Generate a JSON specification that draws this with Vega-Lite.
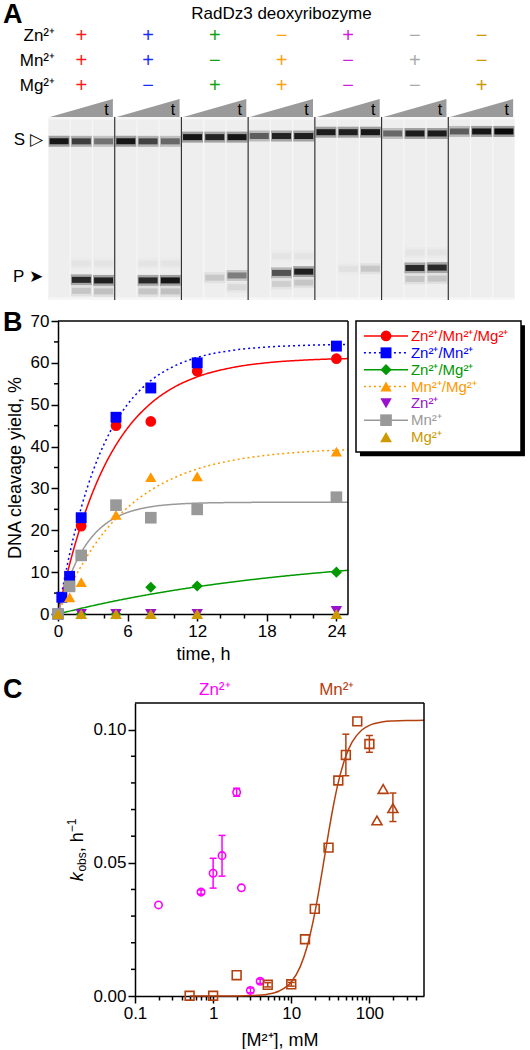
{
  "$schema": "https://vega.github.io/schema/vega-lite/v6.json",
  "padding": 0,
  "background": "white",
  "spacing": 0,
  "bounds": "flush",
  "resolve": {"scale": {"x": "independent", "y": "independent", "color": "independent", "shape": "independent", "size": "independent", "strokeDash": "independent", "opacity": "independent"}},
  "config": {
    "font": "Liberation Sans",
    "view": {"stroke": null},
    "text": {"font": "Liberation Sans", "color": "#000"},
    "axis": {"domainColor": "#000", "domainWidth": 1.5, "tickColor": "#000", "tickWidth": 1.5, "labelColor": "#000", "titleColor": "#000", "labelFont": "Liberation Sans", "titleFont": "Liberation Sans", "titleFontWeight": "normal", "grid": false, "labelFontSize": 17, "titleFontSize": 18, "labelOverlap": false, "labelFlush": false, "labelBound": false}
  },
  "datasets": {
    "signs": [
      {"cond": 1, "metal": "Zn²⁺", "sign": "+"}, {"cond": 1, "metal": "Mn²⁺", "sign": "+"}, {"cond": 1, "metal": "Mg²⁺", "sign": "+"},
      {"cond": 2, "metal": "Zn²⁺", "sign": "+"}, {"cond": 2, "metal": "Mn²⁺", "sign": "+"}, {"cond": 2, "metal": "Mg²⁺", "sign": "−"},
      {"cond": 3, "metal": "Zn²⁺", "sign": "+"}, {"cond": 3, "metal": "Mn²⁺", "sign": "−"}, {"cond": 3, "metal": "Mg²⁺", "sign": "+"},
      {"cond": 4, "metal": "Zn²⁺", "sign": "−"}, {"cond": 4, "metal": "Mn²⁺", "sign": "+"}, {"cond": 4, "metal": "Mg²⁺", "sign": "+"},
      {"cond": 5, "metal": "Zn²⁺", "sign": "+"}, {"cond": 5, "metal": "Mn²⁺", "sign": "−"}, {"cond": 5, "metal": "Mg²⁺", "sign": "−"},
      {"cond": 6, "metal": "Zn²⁺", "sign": "−"}, {"cond": 6, "metal": "Mn²⁺", "sign": "+"}, {"cond": 6, "metal": "Mg²⁺", "sign": "−"},
      {"cond": 7, "metal": "Zn²⁺", "sign": "−"}, {"cond": 7, "metal": "Mn²⁺", "sign": "−"}, {"cond": 7, "metal": "Mg²⁺", "sign": "+"}
    ],
    "conds": [{"cond": 1}, {"cond": 2}, {"cond": 3}, {"cond": 4}, {"cond": 5}, {"cond": 6}, {"cond": 7}],
    "lanes": [{"lane": 1}, {"lane": 2}, {"lane": 3}, {"lane": 4}, {"lane": 5}, {"lane": 6}, {"lane": 7}, {"lane": 8}, {"lane": 9}, {"lane": 10}, {"lane": 11}, {"lane": 12}, {"lane": 13}, {"lane": 14}, {"lane": 15}, {"lane": 16}, {"lane": 17}, {"lane": 18}, {"lane": 19}, {"lane": 20}, {"lane": 21}],
    "dividers": [{"b": 3.5}, {"b": 6.5}, {"b": 9.5}, {"b": 12.5}, {"b": 15.5}, {"b": 18.5}],
    "bands": [
      {"lane": 1, "band": "S", "mig": 0.133, "int": 0.95}, {"lane": 2, "band": "S", "mig": 0.133, "int": 0.75}, {"lane": 3, "band": "S", "mig": 0.133, "int": 0.5},
      {"lane": 4, "band": "S", "mig": 0.133, "int": 0.95}, {"lane": 5, "band": "S", "mig": 0.133, "int": 0.72}, {"lane": 6, "band": "S", "mig": 0.133, "int": 0.55},
      {"lane": 7, "band": "S", "mig": 0.11, "int": 0.95}, {"lane": 8, "band": "S", "mig": 0.11, "int": 0.88}, {"lane": 9, "band": "S", "mig": 0.11, "int": 0.95},
      {"lane": 10, "band": "S", "mig": 0.104, "int": 0.6}, {"lane": 11, "band": "S", "mig": 0.104, "int": 0.88}, {"lane": 12, "band": "S", "mig": 0.104, "int": 0.9},
      {"lane": 13, "band": "S", "mig": 0.083, "int": 0.92}, {"lane": 14, "band": "S", "mig": 0.083, "int": 0.9}, {"lane": 15, "band": "S", "mig": 0.083, "int": 0.95},
      {"lane": 16, "band": "S", "mig": 0.09, "int": 0.55}, {"lane": 17, "band": "S", "mig": 0.09, "int": 0.92}, {"lane": 18, "band": "S", "mig": 0.09, "int": 0.92},
      {"lane": 19, "band": "S", "mig": 0.079, "int": 0.6}, {"lane": 20, "band": "S", "mig": 0.079, "int": 0.95}, {"lane": 21, "band": "S", "mig": 0.079, "int": 1.0},
      {"lane": 2, "band": "P", "mig": 0.89, "int": 0.85}, {"lane": 3, "band": "P", "mig": 0.893, "int": 0.9},
      {"lane": 5, "band": "P", "mig": 0.893, "int": 0.85}, {"lane": 6, "band": "P", "mig": 0.893, "int": 0.95},
      {"lane": 8, "band": "P", "mig": 0.878, "int": 0.15}, {"lane": 9, "band": "P", "mig": 0.866, "int": 0.45},
      {"lane": 11, "band": "P", "mig": 0.852, "int": 0.65}, {"lane": 12, "band": "P", "mig": 0.845, "int": 0.9},
      {"lane": 14, "band": "P", "mig": 0.83, "int": 0.05}, {"lane": 15, "band": "P", "mig": 0.829, "int": 0.15},
      {"lane": 17, "band": "P", "mig": 0.825, "int": 0.85}, {"lane": 18, "band": "P", "mig": 0.823, "int": 0.85},
      {"lane": 2, "band": "P2", "mig": 0.95, "int": 0.16}, {"lane": 3, "band": "P2", "mig": 0.953, "int": 0.18},
      {"lane": 5, "band": "P2", "mig": 0.953, "int": 0.16}, {"lane": 6, "band": "P2", "mig": 0.953, "int": 0.18},
      {"lane": 9, "band": "P2", "mig": 0.93, "int": 0.08}, {"lane": 11, "band": "P2", "mig": 0.912, "int": 0.12},
      {"lane": 12, "band": "P2", "mig": 0.905, "int": 0.16}, {"lane": 17, "band": "P2", "mig": 0.885, "int": 0.16},
      {"lane": 18, "band": "P2", "mig": 0.883, "int": 0.16},
      {"lane": 2, "band": "Pu", "mig": 0.8, "int": 0.04}, {"lane": 3, "band": "Pu", "mig": 0.8, "int": 0.04},
      {"lane": 5, "band": "Pu", "mig": 0.8, "int": 0.04}, {"lane": 6, "band": "Pu", "mig": 0.8, "int": 0.04},
      {"lane": 11, "band": "Pu", "mig": 0.76, "int": 0.04}, {"lane": 12, "band": "Pu", "mig": 0.76, "int": 0.04},
      {"lane": 17, "band": "Pu", "mig": 0.74, "int": 0.04}, {"lane": 18, "band": "Pu", "mig": 0.74, "int": 0.04}
    ],
    "series": [
      {"id": "ZnMnMg", "label": "Zn²⁺/Mn²⁺/Mg²⁺", "fit": "solid"},
      {"id": "ZnMn", "label": "Zn²⁺/Mn²⁺", "fit": "dotted"},
      {"id": "ZnMg", "label": "Zn²⁺/Mg²⁺", "fit": "solid"},
      {"id": "MnMg", "label": "Mn²⁺/Mg²⁺", "fit": "dotted"},
      {"id": "Zn", "label": "Zn²⁺", "fit": "none"},
      {"id": "Mn", "label": "Mn²⁺", "fit": "solid"},
      {"id": "Mg", "label": "Mg²⁺", "fit": "none"}
    ],
    "yield": [
      {"s": "ZnMnMg", "t": 0, "y": 0}, {"s": "ZnMnMg", "t": 1, "y": 8}, {"s": "ZnMnMg", "t": 2, "y": 21}, {"s": "ZnMnMg", "t": 5, "y": 45}, {"s": "ZnMnMg", "t": 8, "y": 46}, {"s": "ZnMnMg", "t": 12, "y": 58}, {"s": "ZnMnMg", "t": 24, "y": 61},
      {"s": "ZnMn", "t": 0, "y": 0}, {"s": "ZnMn", "t": 0.33, "y": 4}, {"s": "ZnMn", "t": 1, "y": 9}, {"s": "ZnMn", "t": 2, "y": 23}, {"s": "ZnMn", "t": 5, "y": 47}, {"s": "ZnMn", "t": 8, "y": 54}, {"s": "ZnMn", "t": 12, "y": 60}, {"s": "ZnMn", "t": 24, "y": 64},
      {"s": "ZnMg", "t": 0, "y": 0}, {"s": "ZnMg", "t": 2, "y": 0}, {"s": "ZnMg", "t": 5, "y": 0}, {"s": "ZnMg", "t": 8, "y": 6.4}, {"s": "ZnMg", "t": 12, "y": 6.7}, {"s": "ZnMg", "t": 24, "y": 10},
      {"s": "MnMg", "t": 0, "y": 0}, {"s": "MnMg", "t": 1, "y": 4}, {"s": "MnMg", "t": 2, "y": 7.6}, {"s": "MnMg", "t": 5, "y": 23.7}, {"s": "MnMg", "t": 8, "y": 32.7}, {"s": "MnMg", "t": 12, "y": 32.9}, {"s": "MnMg", "t": 24, "y": 38.8},
      {"s": "Zn", "t": 0, "y": 0}, {"s": "Zn", "t": 2, "y": 0}, {"s": "Zn", "t": 5, "y": 0}, {"s": "Zn", "t": 8, "y": 0}, {"s": "Zn", "t": 12, "y": 0}, {"s": "Zn", "t": 24, "y": 0.7},
      {"s": "Mn", "t": 0, "y": 0}, {"s": "Mn", "t": 1, "y": 6.6}, {"s": "Mn", "t": 2, "y": 14}, {"s": "Mn", "t": 5, "y": 26}, {"s": "Mn", "t": 8, "y": 23}, {"s": "Mn", "t": 12, "y": 25}, {"s": "Mn", "t": 24, "y": 27.9},
      {"s": "Mg", "t": 0, "y": 0}, {"s": "Mg", "t": 2, "y": 0}, {"s": "Mg", "t": 5, "y": 0}, {"s": "Mg", "t": 8, "y": 0}, {"s": "Mg", "t": 12, "y": 0}, {"s": "Mg", "t": 24, "y": 0}
    ],
    "fits": [
      {"s": "ZnMnMg", "t": 0, "y": 0}, {"s": "ZnMnMg", "t": 0.5, "y": 6.25}, {"s": "ZnMnMg", "t": 1, "y": 11.86}, {"s": "ZnMnMg", "t": 1.5, "y": 16.9}, {"s": "ZnMnMg", "t": 2, "y": 21.42}, {"s": "ZnMnMg", "t": 3, "y": 29.14}, {"s": "ZnMnMg", "t": 4, "y": 35.36}, {"s": "ZnMnMg", "t": 5, "y": 40.38}, {"s": "ZnMnMg", "t": 6, "y": 44.42}, {"s": "ZnMnMg", "t": 8, "y": 50.32}, {"s": "ZnMnMg", "t": 10, "y": 54.16}, {"s": "ZnMnMg", "t": 12, "y": 56.65}, {"s": "ZnMnMg", "t": 15, "y": 58.86}, {"s": "ZnMnMg", "t": 18, "y": 60.02}, {"s": "ZnMnMg", "t": 21, "y": 60.63}, {"s": "ZnMnMg", "t": 25, "y": 61.02},
      {"s": "ZnMn", "t": 0, "y": 0}, {"s": "ZnMn", "t": 0.5, "y": 7.58}, {"s": "ZnMn", "t": 1, "y": 14.27}, {"s": "ZnMn", "t": 1.5, "y": 20.17}, {"s": "ZnMn", "t": 2, "y": 25.38}, {"s": "ZnMn", "t": 3, "y": 34.03}, {"s": "ZnMn", "t": 4, "y": 40.77}, {"s": "ZnMn", "t": 5, "y": 46.02}, {"s": "ZnMn", "t": 6, "y": 50.11}, {"s": "ZnMn", "t": 8, "y": 55.77}, {"s": "ZnMn", "t": 10, "y": 59.2}, {"s": "ZnMn", "t": 12, "y": 61.29}, {"s": "ZnMn", "t": 15, "y": 62.98}, {"s": "ZnMn", "t": 18, "y": 63.78}, {"s": "ZnMn", "t": 21, "y": 64.16}, {"s": "ZnMn", "t": 25, "y": 64.38},
      {"s": "ZnMg", "t": 0, "y": 0}, {"s": "ZnMg", "t": 2, "y": 1.35}, {"s": "ZnMg", "t": 4, "y": 2.59}, {"s": "ZnMg", "t": 6, "y": 3.71}, {"s": "ZnMg", "t": 8, "y": 4.73}, {"s": "ZnMg", "t": 10, "y": 5.66}, {"s": "ZnMg", "t": 12, "y": 6.51}, {"s": "ZnMg", "t": 15, "y": 7.64}, {"s": "ZnMg", "t": 18, "y": 8.62}, {"s": "ZnMg", "t": 21, "y": 9.47}, {"s": "ZnMg", "t": 25, "y": 10.44},
      {"s": "MnMg", "t": 0, "y": 0}, {"s": "MnMg", "t": 0.5, "y": 3.24}, {"s": "MnMg", "t": 1, "y": 6.22}, {"s": "MnMg", "t": 1.5, "y": 8.96}, {"s": "MnMg", "t": 2, "y": 11.47}, {"s": "MnMg", "t": 3, "y": 15.9}, {"s": "MnMg", "t": 4, "y": 19.64}, {"s": "MnMg", "t": 5, "y": 22.79}, {"s": "MnMg", "t": 6, "y": 25.45}, {"s": "MnMg", "t": 8, "y": 29.58}, {"s": "MnMg", "t": 10, "y": 32.53}, {"s": "MnMg", "t": 12, "y": 34.63}, {"s": "MnMg", "t": 15, "y": 36.69}, {"s": "MnMg", "t": 18, "y": 37.93}, {"s": "MnMg", "t": 21, "y": 38.68}, {"s": "MnMg", "t": 25, "y": 39.23},
      {"s": "Mn", "t": 0, "y": 0}, {"s": "Mn", "t": 0.5, "y": 4.84}, {"s": "Mn", "t": 1, "y": 8.8}, {"s": "Mn", "t": 1.5, "y": 12.05}, {"s": "Mn", "t": 2, "y": 14.7}, {"s": "Mn", "t": 3, "y": 18.66}, {"s": "Mn", "t": 4, "y": 21.31}, {"s": "Mn", "t": 5, "y": 23.09}, {"s": "Mn", "t": 6, "y": 24.28}, {"s": "Mn", "t": 8, "y": 25.61}, {"s": "Mn", "t": 10, "y": 26.21}, {"s": "Mn", "t": 12, "y": 26.48}, {"s": "Mn", "t": 15, "y": 26.63}, {"s": "Mn", "t": 18, "y": 26.68}, {"s": "Mn", "t": 25, "y": 26.7}
    ],
    "kobs": [
      {"set": "Zn", "conc": 0.2, "k": 0.0342},
      {"set": "Zn", "conc": 0.7, "k": 0.039, "lo": 0.0382, "hi": 0.0398},
      {"set": "Zn", "conc": 1.0, "k": 0.0461, "lo": 0.0405, "hi": 0.0517},
      {"set": "Zn", "conc": 1.3, "k": 0.0527, "lo": 0.045, "hi": 0.0603},
      {"set": "Zn", "conc": 2.0, "k": 0.0765, "lo": 0.075, "hi": 0.078},
      {"set": "Zn", "conc": 2.3, "k": 0.0406},
      {"set": "Zn", "conc": 3.0, "k": 0.0021, "lo": 0.0012, "hi": 0.003},
      {"set": "Zn", "conc": 4.0, "k": 0.0055, "lo": 0.0047, "hi": 0.0063},
      {"set": "Mn", "conc": 0.5, "k": 0.0001},
      {"set": "Mn", "conc": 1.0, "k": 0.0001},
      {"set": "Mn", "conc": 2.0, "k": 0.0078},
      {"set": "Mn", "conc": 5, "k": 0.0042, "lo": 0.0034, "hi": 0.005},
      {"set": "Mn", "conc": 10, "k": 0.0044, "lo": 0.0037, "hi": 0.0051},
      {"set": "Mn", "conc": 15, "k": 0.0213},
      {"set": "Mn", "conc": 20, "k": 0.0327},
      {"set": "Mn", "conc": 30, "k": 0.0557},
      {"set": "Mn", "conc": 40, "k": 0.0809},
      {"set": "Mn", "conc": 50, "k": 0.0905, "lo": 0.0827, "hi": 0.0983},
      {"set": "Mn", "conc": 70, "k": 0.1031},
      {"set": "Mn", "conc": 100, "k": 0.0946, "lo": 0.0915, "hi": 0.0978},
      {"set": "Mn2", "conc": 125, "k": 0.0659},
      {"set": "Mn2", "conc": 150, "k": 0.0777},
      {"set": "Mn2", "conc": 200, "k": 0.0705, "lo": 0.0655, "hi": 0.0762}
    ],
    "hill": [
      {"conc": 0.5, "k": 0.0}, {"conc": 1, "k": 0.0000056}, {"conc": 2, "k": 0.0000445}, {"conc": 3, "k": 0.00015}, {"conc": 5, "k": 0.00069}, {"conc": 7, "k": 0.001874}, {"conc": 10, "k": 0.00528}, {"conc": 13, "k": 0.01093}, {"conc": 16, "k": 0.01867}, {"conc": 20, "k": 0.03111}, {"conc": 25, "k": 0.04724}, {"conc": 30, "k": 0.06127}, {"conc": 35, "k": 0.07217}, {"conc": 40, "k": 0.08018}, {"conc": 50, "k": 0.09009}, {"conc": 60, "k": 0.09529}, {"conc": 80, "k": 0.09987}, {"conc": 100, "k": 0.1016}, {"conc": 150, "k": 0.10293}, {"conc": 200, "k": 0.10326}, {"conc": 300, "k": 0.10343}, {"conc": 500, "k": 0.10348}
    ],
    "minorB": [{"v": 5}, {"v": 15}, {"v": 25}, {"v": 35}, {"v": 45}, {"v": 55}, {"v": 65}],
    "minorC": [{"v": 0.01}, {"v": 0.02}, {"v": 0.03}, {"v": 0.04}, {"v": 0.06}, {"v": 0.07}, {"v": 0.08}, {"v": 0.09}]
  },
  "vconcat": [
    {
      "width": 530,
      "height": 115,
      "layer": [
        {
          "data": {"name": "signs"},
          "mark": {"type": "text", "fontSize": 20, "baseline": "middle", "align": "center"},
          "encoding": {
            "x": {"field": "cond", "type": "quantitative", "scale": {"domain": [-0.2195, 7.7249], "nice": false, "zero": false}, "axis": null},
            "y": {"field": "metal", "type": "ordinal", "scale": {"type": "point", "domain": ["title", "Zn²⁺", "Mn²⁺", "Mg²⁺", "wedge"], "padding": 0.3, "align": 0.6}, "axis": null},
            "text": {"field": "sign"},
            "color": {"field": "cond", "type": "nominal", "scale": {"domain": [1, 2, 3, 4, 5, 6, 7], "range": ["#ff1a1a", "#1a2cff", "#10a010", "#ffa010", "#cc22dd", "#aaaaaa", "#cc9900"]}, "legend": null}
          }
        },
        {
          "data": {"values": [{"metal": "Zn²⁺"}, {"metal": "Mn²⁺"}, {"metal": "Mg²⁺"}]},
          "mark": {"type": "text", "fontSize": 17, "baseline": "middle", "align": "right", "color": "#000"},
          "encoding": {
            "x": {"datum": 0.605, "type": "quantitative"},
            "y": {"field": "metal", "type": "ordinal", "axis": null},
            "text": {"field": "metal"}
          }
        },
        {
          "data": {"values": [{"t": "RadDz3 deoxyribozyme"}]},
          "mark": {"type": "text", "fontSize": 17, "baseline": "middle", "align": "center", "dy": 3, "color": "#000"},
          "encoding": {
            "x": {"datum": 4, "type": "quantitative"},
            "y": {"datum": "title", "type": "ordinal"},
            "text": {"field": "t"}
          }
        },
        {
          "data": {"values": [{"p": "A"}]},
          "mark": {"type": "text", "fontSize": 27, "fontWeight": "bold", "baseline": "middle", "align": "left", "dy": 4, "color": "#000"},
          "encoding": {
            "x": {"datum": -0.175, "type": "quantitative"},
            "y": {"datum": "title", "type": "ordinal"},
            "text": {"field": "p"}
          }
        },
        {
          "data": {"name": "conds"},
          "mark": {"type": "point", "shape": "M-1,0.19L1,-0.381L1,0.19Z", "size": 3969, "filled": true, "fill": "#9a9a9a", "opacity": 1, "strokeWidth": 0},
          "encoding": {
            "x": {"field": "cond", "type": "quantitative"},
            "y": {"datum": "wedge", "type": "ordinal"}
          }
        },
        {
          "data": {"name": "conds"},
          "mark": {"type": "text", "fontSize": 16, "baseline": "middle", "align": "center", "dx": 25, "dy": -1, "color": "#000"},
          "encoding": {
            "x": {"field": "cond", "type": "quantitative"},
            "y": {"datum": "wedge", "type": "ordinal"},
            "text": {"value": "t"}
          }
        }
      ]
    },
    {
      "width": 530,
      "height": 204,
      "resolve": {"scale": {"color": "independent"}},
      "layer": [
        {
          "data": {"values": [{}]},
          "mark": {"type": "rect", "fill": "#f6f6f6"},
          "encoding": {
            "x": {"datum": 0.5, "type": "quantitative", "scale": {"domain": [-1.6585, 22.1746], "nice": false, "zero": false}, "axis": null},
            "x2": {"datum": 21.5},
            "y": {"datum": 0, "type": "quantitative", "scale": {"domain": [0, 1.1148], "nice": false, "zero": false, "reverse": true}, "axis": null},
            "y2": {"datum": 1}
          }
        },
        {
          "data": {"name": "lanes"},
          "mark": {"type": "tick", "orient": "vertical", "size": 178, "thickness": 21, "color": "#eeeeee", "opacity": 1},
          "encoding": {
            "x": {"field": "lane", "type": "quantitative"},
            "y": {"datum": 0.5, "type": "quantitative"}
          }
        },
        {
          "data": {"name": "bands"},
          "mark": {"type": "tick", "orient": "horizontal", "size": 21, "thickness": 11, "opacity": 1},
          "encoding": {
            "x": {"field": "lane", "type": "quantitative"},
            "y": {"field": "mig", "type": "quantitative"},
            "color": {"field": "int", "type": "quantitative", "scale": {"domain": [0, 1], "range": ["#eeeeee", "#9a9a9a"]}, "legend": null}
          }
        },
        {
          "data": {"name": "bands"},
          "mark": {"type": "tick", "orient": "horizontal", "size": 19, "thickness": 6, "opacity": 1},
          "encoding": {
            "x": {"field": "lane", "type": "quantitative"},
            "y": {"field": "mig", "type": "quantitative"},
            "fill": {"field": "int", "type": "quantitative", "scale": {"domain": [0, 1], "range": ["#eeeeee", "#0a0a0a"]}, "legend": null}
          }
        },
        {
          "data": {"name": "dividers"},
          "mark": {"type": "rule", "color": "#333", "strokeWidth": 1.2},
          "encoding": {
            "x": {"field": "b", "type": "quantitative"},
            "y": {"datum": 0, "type": "quantitative"},
            "y2": {"datum": 1}
          }
        },
        {
          "data": {"values": [{"l": "S ▷"}]},
          "mark": {"type": "text", "fontSize": 17, "align": "right", "baseline": "middle", "color": "#000"},
          "encoding": {
            "x": {"datum": 0.27, "type": "quantitative"},
            "y": {"datum": 0.126, "type": "quantitative"},
            "text": {"field": "l"}
          }
        },
        {
          "data": {"values": [{"l": "P ➤"}]},
          "mark": {"type": "text", "fontSize": 17, "align": "right", "baseline": "middle", "color": "#000"},
          "encoding": {
            "x": {"datum": 0.27, "type": "quantitative"},
            "y": {"datum": 0.877, "type": "quantitative"},
            "text": {"field": "l"}
          }
        }
      ]
    },
    {
      "width": 530,
      "height": 293,
      "resolve": {"scale": {"x": "independent", "y": "independent", "color": "independent", "shape": "independent", "size": "independent", "strokeDash": "independent"}, "axis": {"x": "independent", "y": "independent"}},
      "layer": [
        {
          "layer": [
            {
              "data": {"name": "fits"},
              "mark": {"type": "line", "strokeWidth": 1.5, "interpolate": "monotone"},
              "encoding": {
                "x": {"field": "t", "type": "quantitative", "scale": {"domain": [0, 25], "range": [58, 348], "nice": false, "zero": false},
                  "axis": {"values": [0, 2, 4, 6, 8, 10, 12, 14, 16, 18, 20, 22, 24], "labelExpr": "datum.value % 6 == 0 ? datum.label : ''", "tickSize": {"condition": {"test": "datum.value % 6 == 0", "value": 7}, "value": 4}, "title": "time, h", "labelPadding": 2, "titlePadding": 6, "labelOverlap": false}},
                "y": {"field": "y", "type": "quantitative", "scale": {"domain": [0, 70], "nice": false},
                  "axis": {"offset": -58, "values": [0, 10, 20, 30, 40, 50, 60, 70], "tickCount": 8, "tickSize": 7, "title": "DNA cleavage yield, %", "labelPadding": 2, "titlePadding": 6, "labelOverlap": false}},
                "color": {"field": "s", "type": "nominal", "scale": {"domain": ["ZnMnMg", "ZnMn", "ZnMg", "MnMg", "Zn", "Mn", "Mg"], "range": ["#ff0000", "#0000ff", "#009900", "#ff9900", "#9a10cc", "#999999", "#cc9900"]}, "legend": null},
                "strokeDash": {"field": "s", "type": "nominal", "scale": {"domain": ["ZnMnMg", "ZnMn", "ZnMg", "MnMg", "Mn"], "range": [[1, 0], [2, 3], [1, 0], [2, 3], [1, 0]]}, "legend": null}
              }
            },
            {
              "data": {"name": "minorB"},
              "mark": {"type": "tick", "orient": "horizontal", "size": 4, "thickness": 1.5, "color": "#000", "opacity": 1, "xOffset": -2},
              "encoding": {
                "x": {"datum": 0, "type": "quantitative"},
                "y": {"field": "v", "type": "quantitative"}
              }
            },
            {
              "data": {"values": [{}]},
              "mark": {"type": "rule", "color": "#000", "strokeWidth": 1.5},
              "encoding": {
                "x": {"datum": 0, "type": "quantitative"},
                "x2": {"datum": 25},
                "y": {"datum": 70, "type": "quantitative"}
              }
            },
            {
              "data": {"values": [{}]},
              "mark": {"type": "rule", "color": "#000", "strokeWidth": 1.5},
              "encoding": {
                "x": {"datum": 25, "type": "quantitative"},
                "y": {"datum": 0, "type": "quantitative"},
                "y2": {"datum": 70}
              }
            },
            {
              "data": {"name": "yield"},
              "mark": {"type": "point", "filled": true, "opacity": 1, "strokeWidth": 0},
              "encoding": {
                "x": {"field": "t", "type": "quantitative"},
                "y": {"field": "y", "type": "quantitative"},
                "color": {"field": "s", "type": "nominal", "legend": null},
                "shape": {"field": "s", "type": "nominal", "scale": {"domain": ["ZnMnMg", "ZnMn", "ZnMg", "MnMg", "Zn", "Mn", "Mg"], "range": ["circle", "square", "diamond", "triangle-up", "triangle-down", "square", "triangle-up"]}, "legend": null},
                "size": {"field": "s", "type": "nominal", "scale": {"domain": ["ZnMnMg", "ZnMn", "ZnMg", "MnMg", "Zn", "Mn", "Mg"], "range": [115, 140, 180, 160, 160, 140, 160]}, "legend": null}
              }
            },
            {
              "data": {"values": [{"p": "B"}]},
              "mark": {"type": "text", "fontSize": 27, "fontWeight": "bold", "align": "left", "baseline": "middle", "color": "#000"},
              "encoding": {
                "x": {"datum": -4.74, "type": "quantitative"},
                "y": {"datum": 69.6, "type": "quantitative"},
                "text": {"field": "p"}
              }
            }
          ]
        },
        {
          "resolve": {"scale": {"y": "independent"}},
          "layer": [
            {
              "data": {"values": [{}]},
              "layer": [
                {
                  "mark": {"type": "rect", "fill": "#000"},
                  "encoding": {
                    "x": {"datum": 0.024, "type": "quantitative", "scale": {"domain": [0, 1], "range": [356, 521], "nice": false, "zero": false}, "axis": null},
                    "x2": {"datum": 1.024},
                    "y": {"datum": -0.032, "type": "quantitative", "scale": {"domain": [0, 1], "range": [131, 0], "nice": false, "zero": false}, "axis": null},
                    "y2": {"datum": 0.968}
                  }
                },
                {
                  "mark": {"type": "rect", "fill": "#fff", "stroke": "#000", "strokeWidth": 1.5},
                  "encoding": {
                    "x": {"datum": 0, "type": "quantitative"},
                    "x2": {"datum": 1},
                    "y": {"datum": 0, "type": "quantitative"},
                    "y2": {"datum": 1}
                  }
                }
              ]
            },
            {
              "data": {"name": "series"},
              "layer": [
                {
                  "transform": [{"filter": "datum.fit != 'none'"}],
                  "mark": {"type": "rule", "strokeWidth": 1.5},
                  "encoding": {
                    "x": {"datum": 0.048, "type": "quantitative"},
                    "x2": {"datum": 0.315},
                    "y": {"field": "id", "type": "ordinal", "scale": {"type": "point", "domain": ["ZnMnMg", "ZnMn", "ZnMg", "MnMg", "Zn", "Mn", "Mg"], "range": [0, 131], "padding": 0.89}, "axis": null},
                    "color": {"field": "id", "type": "nominal", "scale": {"domain": ["ZnMnMg", "ZnMn", "ZnMg", "MnMg", "Zn", "Mn", "Mg"], "range": ["#ff0000", "#0000ff", "#009900", "#ff9900", "#9a10cc", "#999999", "#cc9900"]}, "legend": null},
                    "strokeDash": {"field": "fit", "type": "nominal", "scale": {"domain": ["solid", "dotted"], "range": [[1, 0], [2, 3]]}, "legend": null}
                  }
                },
                {
                  "mark": {"type": "point", "filled": true, "opacity": 1, "strokeWidth": 0},
                  "encoding": {
                    "x": {"datum": 0.182, "type": "quantitative"},
                    "y": {"field": "id", "type": "ordinal"},
                    "color": {"field": "id", "type": "nominal", "legend": null},
                    "shape": {"field": "id", "type": "nominal", "scale": {"domain": ["ZnMnMg", "ZnMn", "ZnMg", "MnMg", "Zn", "Mn", "Mg"], "range": ["circle", "square", "diamond", "triangle-up", "triangle-down", "square", "triangle-up"]}, "legend": null},
                    "size": {"field": "id", "type": "nominal", "scale": {"domain": ["ZnMnMg", "ZnMn", "ZnMg", "MnMg", "Zn", "Mn", "Mg"], "range": [115, 140, 180, 160, 160, 140, 160]}, "legend": null}
                  }
                },
                {
                  "mark": {"type": "text", "fontSize": 15, "align": "left", "baseline": "middle"},
                  "encoding": {
                    "x": {"datum": 0.333, "type": "quantitative"},
                    "y": {"field": "id", "type": "ordinal"},
                    "text": {"field": "label"},
                    "color": {"field": "id", "type": "nominal", "legend": null}
                  }
                }
              ]
            }
          ]
        }
      ]
    },
    {"width": 1, "height": 89, "data": {"values": []}, "mark": "point"},
    {
      "width": 530,
      "height": 293,
      "layer": [
        {
          "data": {"name": "hill"},
          "mark": {"type": "line", "color": "#b5400f", "strokeWidth": 1.5, "interpolate": "monotone"},
          "encoding": {
            "x": {"field": "conc", "type": "quantitative", "scale": {"type": "log", "domain": [0.1, 500], "range": [135, 424], "nice": false},
              "axis": {"values": [0.1, 0.2, 0.3, 0.4, 0.5, 0.6, 0.7, 0.8, 0.9, 1, 2, 3, 4, 5, 6, 7, 8, 9, 10, 20, 30, 40, 50, 60, 70, 80, 90, 100, 200, 300, 400],
                "labelExpr": "datum.value == 0.1 ? '0.1' : datum.value == 1 ? '1' : datum.value == 10 ? '10' : datum.value == 100 ? '100' : ''",
                "tickSize": {"condition": {"test": "datum.value == 0.1 || datum.value == 1 || datum.value == 10 || datum.value == 100", "value": 7}, "value": 4},
                "title": "[M²⁺], mM", "labelPadding": 2, "titlePadding": 10, "labelOverlap": false}},
            "y": {"field": "k", "type": "quantitative", "scale": {"domain": [0, 0.11], "nice": false, "zero": false},
              "axis": {"offset": -135, "values": [0, 0.05, 0.1], "tickCount": 3, "format": ".2f", "tickSize": 7,
                "title": null, "labelPadding": 2, "labelOverlap": false}}
          }
        },
        {
          "data": {"name": "minorC"},
          "mark": {"type": "tick", "orient": "horizontal", "size": 4, "thickness": 1.5, "color": "#000", "opacity": 1, "xOffset": -2},
          "encoding": {
            "x": {"datum": 0.1, "type": "quantitative"},
            "y": {"field": "v", "type": "quantitative"}
          }
        },
        {
          "data": {"values": [{}]},
          "mark": {"type": "rule", "color": "#000", "strokeWidth": 1.5},
          "encoding": {
            "x": {"datum": 0.1, "type": "quantitative"},
            "x2": {"datum": 500},
            "y": {"datum": 0.11, "type": "quantitative"}
          }
        },
        {
          "data": {"values": [{}]},
          "mark": {"type": "rule", "color": "#000", "strokeWidth": 1.5},
          "encoding": {
            "x": {"datum": 500, "type": "quantitative"},
            "y": {"datum": 0, "type": "quantitative"},
            "y2": {"datum": 0.11}
          }
        },
        {
          "data": {"name": "kobs"},
          "transform": [{"filter": "isValid(datum.lo)"}],
          "mark": {"type": "rule", "strokeWidth": 1.5},
          "encoding": {
            "x": {"field": "conc", "type": "quantitative"},
            "y": {"field": "lo", "type": "quantitative"},
            "y2": {"field": "hi"},
            "color": {"field": "set", "type": "nominal", "scale": {"domain": ["Zn", "Mn", "Mn2"], "range": ["#ff00ff", "#b5400f", "#b5400f"]}, "legend": null}
          }
        },
        {
          "data": {"name": "kobs"},
          "transform": [{"filter": "isValid(datum.lo)"}],
          "mark": {"type": "tick", "orient": "horizontal", "size": 7, "thickness": 1.5, "opacity": 1},
          "encoding": {
            "x": {"field": "conc", "type": "quantitative"},
            "y": {"field": "lo", "type": "quantitative"},
            "color": {"field": "set", "type": "nominal", "legend": null}
          }
        },
        {
          "data": {"name": "kobs"},
          "transform": [{"filter": "isValid(datum.hi)"}],
          "mark": {"type": "tick", "orient": "horizontal", "size": 7, "thickness": 1.5, "opacity": 1},
          "encoding": {
            "x": {"field": "conc", "type": "quantitative"},
            "y": {"field": "hi", "type": "quantitative"},
            "color": {"field": "set", "type": "nominal", "legend": null}
          }
        },
        {
          "data": {"name": "kobs"},
          "mark": {"type": "point", "filled": false, "opacity": 1, "strokeWidth": 1.6},
          "encoding": {
            "x": {"field": "conc", "type": "quantitative"},
            "y": {"field": "k", "type": "quantitative"},
            "color": {"field": "set", "type": "nominal", "legend": null},
            "shape": {"field": "set", "type": "nominal", "scale": {"domain": ["Zn", "Mn", "Mn2"], "range": ["circle", "square", "triangle-up"]}, "legend": null},
            "size": {"field": "set", "type": "nominal", "scale": {"domain": ["Zn", "Mn", "Mn2"], "range": [55, 100, 120]}, "legend": null}
          }
        },
        {
          "data": {"values": [{"l": "Zn²⁺"}]},
          "mark": {"type": "text", "fontSize": 17, "align": "center", "baseline": "middle", "color": "#ff00ff"},
          "encoding": {
            "x": {"datum": 1.05, "type": "quantitative"},
            "y": {"datum": 0.1147, "type": "quantitative"},
            "text": {"field": "l"}
          }
        },
        {
          "data": {"values": [{"l": "Mn²⁺"}]},
          "mark": {"type": "text", "fontSize": 17, "align": "center", "baseline": "middle", "color": "#b5400f"},
          "encoding": {
            "x": {"datum": 38.3, "type": "quantitative"},
            "y": {"datum": 0.1147, "type": "quantitative"},
            "text": {"field": "l"}
          }
        },
        {
          "data": {"values": [{"p": "C"}]},
          "mark": {"type": "text", "fontSize": 27, "fontWeight": "bold", "align": "left", "baseline": "middle", "color": "#000"},
          "encoding": {
            "x": {"datum": 0.00205, "type": "quantitative"},
            "y": {"datum": 0.115, "type": "quantitative"},
            "text": {"field": "p"}
          }
        },
        {
          "data": {"values": [{"p": "k"}]},
          "mark": {"type": "text", "fontSize": 18, "fontStyle": "italic", "align": "left", "baseline": "alphabetic", "angle": 270, "color": "#000"},
          "encoding": {
            "x": {"datum": 0.02163, "type": "quantitative"},
            "y": {"datum": 0.0431, "type": "quantitative"},
            "text": {"field": "p"}
          }
        },
        {
          "data": {"values": [{"p": "obs"}]},
          "mark": {"type": "text", "fontSize": 12, "align": "left", "baseline": "alphabetic", "angle": 270, "dy": 3, "color": "#000"},
          "encoding": {
            "x": {"datum": 0.02163, "type": "quantitative"},
            "y": {"datum": 0.0467, "type": "quantitative"},
            "text": {"field": "p"}
          }
        },
        {
          "data": {"values": [{"p": ", h"}]},
          "mark": {"type": "text", "fontSize": 18, "align": "left", "baseline": "alphabetic", "angle": 270, "color": "#000"},
          "encoding": {
            "x": {"datum": 0.02163, "type": "quantitative"},
            "y": {"datum": 0.054, "type": "quantitative"},
            "text": {"field": "p"}
          }
        },
        {
          "data": {"values": [{"p": "−1"}]},
          "mark": {"type": "text", "fontSize": 12, "align": "left", "baseline": "alphabetic", "angle": 270, "dy": -7, "color": "#000"},
          "encoding": {
            "x": {"datum": 0.02163, "type": "quantitative"},
            "y": {"datum": 0.0615, "type": "quantitative"},
            "text": {"field": "p"}
          }
        }
      ]
    }
  ]
}
